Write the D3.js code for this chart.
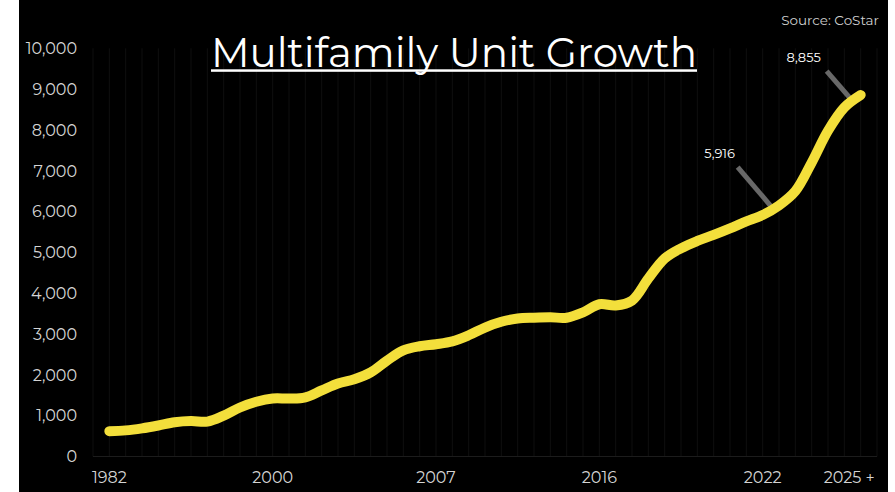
<!DOCTYPE html>
<meta charset="utf-8">
<style>
  body { margin: 0; background: #fff; }
  svg { display: block; }
  .tick-label { fill: #d4d4d4; font-family: "Montserrat", "Open Sans", sans-serif; font-size: 16px; }
</style>
<body>
<script src="https://d3js.org/d3.v7.min.js"></script>
<script>

// values (one per category step)
var units = [620, 640, 690, 760, 840, 870, 855, 1000, 1200, 1340,
             1420, 1420, 1450, 1620, 1790, 1890, 2060, 2350, 2600, 2700,
             2750, 2820, 2970, 3160, 3300, 3380, 3400, 3410, 3400, 3530,
             3730, 3700, 3820, 4360, 4850, 5100, 5280, 5430, 5590, 5760,
             5916, 6150, 6500, 7200, 7980, 8550, 8855];

var xLabels = ["1982", "2000", "2007", "2016", "2022", "2025 +"];
var xLabelIndex = [0, 10, 20, 30, 40, 45.3];
var yTicks = [0, 1000, 2000, 3000, 4000, 5000, 6000, 7000, 8000, 9000, 10000];

var callouts = [
  {i: 40, text: "5,916", dx: -43, dy: -57, lx: [-25, 9], ly: [-48, -8]},
  {i: 46, text: "8,855", dx: -57, dy: -33, lx: [-34, -8], ly: [-24, 6]}
];

var W = 895, H = 492;

var svg = d3.select("body")
            .append("svg")
            .attr("width", W)
            .attr("height", H);

// black panel with white strips on the sides
svg.append("rect")
   .attr("x", 19).attr("y", 0)
   .attr("width", 869).attr("height", H)
   .attr("fill", "#000");

var x = d3.scaleLinear().domain([-1, 47]).range([93, 877]);
var y = d3.scaleLinear().domain([0, 10000]).range([456.5, 48.3]);

/*
** faint vertical gridlines, one per category
*/
svg.append("g")
   .selectAll("line")
   .data(d3.range(-1, 48))
   .enter().append("line")
   .attr("x1", function(d) { return x(d); })
   .attr("x2", function(d) { return x(d); })
   .attr("y1", y(10000))
   .attr("y2", y(0))
   .style("stroke", "#0f0f0f")
   .style("stroke-width", 1);

svg.append("line")
   .attr("x1", x(-1)).attr("x2", x(47))
   .attr("y1", y(0)).attr("y2", y(0))
   .style("stroke", "#1c1c1c")
   .style("stroke-width", 1.2);

/*
** axes labels
*/
var fmt = d3.format(",");

svg.append("g")
   .selectAll("text")
   .data(yTicks)
   .enter().append("text")
   .attr("class", "tick-label")
   .attr("x", 77)
   .attr("y", function(d) { return y(d); })
   .attr("dy", "0.36em")
   .attr("text-anchor", "end")
   .text(function(d) { return fmt(d); });

svg.append("g")
   .selectAll("text")
   .data(xLabels)
   .enter().append("text")
   .attr("class", "tick-label")
   .attr("x", function(d, i) { return x(xLabelIndex[i]); })
   .attr("y", 483)
   .attr("text-anchor", "middle")
   .text(function(d) { return d; });

/*
** leader lines + data labels
*/
callouts.forEach(function(c) {
  var px = x(c.i), py = y(units[c.i]);
  svg.append("line")
     .attr("x1", px + c.lx[0]).attr("y1", py + c.ly[0])
     .attr("x2", px + c.lx[1]).attr("y2", py + c.ly[1])
     .style("stroke", "#686868")
     .style("stroke-width", 5);
  svg.append("text")
     .attr("x", px + c.dx)
     .attr("y", py + c.dy)
     .attr("text-anchor", "middle")
     .style("fill", "#fff")
     .style("font-family", "Montserrat, 'Open Sans', sans-serif")
     .style("font-size", "13px")
     .text(c.text);
});

/*
** the line
*/
var line = d3.line()
             .x(function(d, i) { return x(i); })
             .y(function(d) { return y(d); })
             .curve(d3.curveCatmullRom.alpha(0.5));

svg.append("path")
   .datum(units)
   .attr("d", line)
   .style("fill", "none")
   .style("stroke", "#f3df3b")
   .style("stroke-width", 10)
   .style("stroke-linecap", "round")
   .style("stroke-linejoin", "round");

/*
** title + source
*/
var title = svg.append("text")
   .attr("x", 454)
   .attr("y", 66.5)
   .attr("text-anchor", "middle")
   .style("fill", "#fff")
   .style("font-family", "Montserrat, 'Open Sans', sans-serif")
   .style("font-size", "42px")
   .attr("textLength", 486)
   .attr("lengthAdjust", "spacingAndGlyphs")
   .text("Multifamily Unit Growth");

var bb = title.node().getBBox();
svg.append("rect")
   .attr("x", bb.x).attr("y", 69.3)
   .attr("width", bb.width).attr("height", 2.5)
   .attr("fill", "#fff");

svg.append("text")
   .attr("x", 879)
   .attr("y", 25)
   .attr("text-anchor", "end")
   .style("fill", "#d0d0d0")
   .style("font-family", "Montserrat, 'Open Sans', sans-serif")
   .style("font-size", "13.5px")
   .text("Source: CoStar");

</script>
</body>
</html>
